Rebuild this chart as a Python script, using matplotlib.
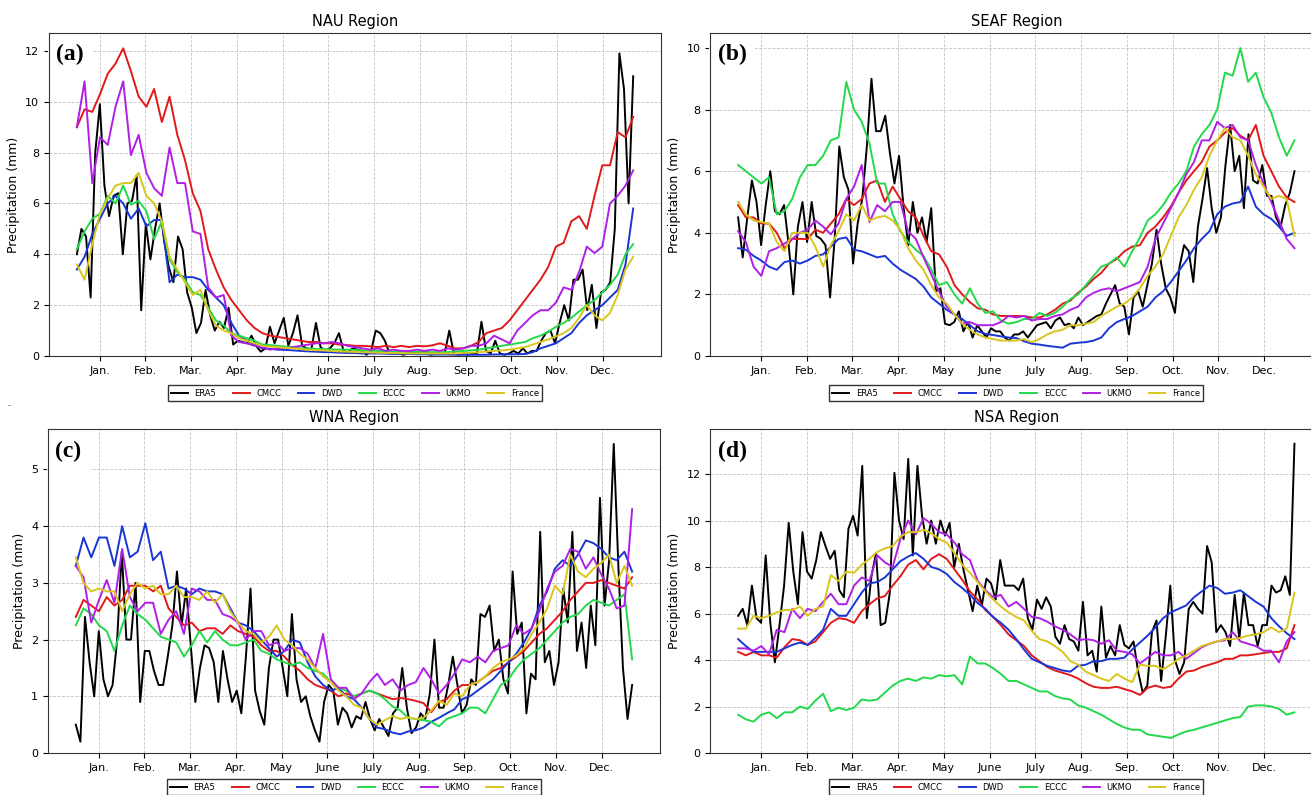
import numpy as np
import matplotlib
matplotlib.use('Agg')
import matplotlib.pyplot as plt

# x axis: day of year 0..365, ticks at the middle of each month
month_ticks = [15, 45, 75, 105, 135, 165, 195, 225, 255, 285, 315, 345]
month_labels = ['Jan.', 'Feb.', 'Mar.', 'Apr.', 'May', 'June', 'July',
                'Aug.', 'Sep.', 'Oct.', 'Nov.', 'Dec.']

models = ['ERA5', 'CMCC', 'DWD', 'ECCC', 'UKMO', 'France']
colors = ['black', '#e0191b', '#1a35d6', '#22d94a', '#b01fe6', '#d9c51c']

# values (ERA5 every ~3 days, models every ~5 days)
nau_era5 = [4.0, 5.0, 4.7, 2.3, 8.0, 9.9, 6.7, 5.5, 6.3, 6.4, 4.0, 6.0, 6.1, 7.1, 1.8, 5.2, 3.8, 5.0, 6.0, 4.5,
            3.5, 2.9, 4.7, 4.2, 2.5, 1.9, 0.9, 1.3, 2.6, 1.6, 1.0, 1.35, 1.1, 1.9, 0.45, 0.6, 0.55, 0.5, 0.8, 0.4,
            0.17, 0.3, 1.15, 0.5, 1.0, 1.5, 0.4, 0.9, 1.6, 0.4, 0.3, 0.25, 1.3, 0.35, 0.2, 0.3, 0.5, 0.9, 0.2, 0.15,
            0.3, 0.25, 0.2, 0.05, 0.2, 1.0, 0.9, 0.6, 0.1, 0.15, 0.1, 0.05, 0.1, 0.1, 0.15, 0.1, 0.1, 0.05, 0.1, 0.1,
            0.1, 1.0, 0.1, 0.05, 0.1, 0.05, 0.1, 0.1, 1.35, 0.2, 0.1, 0.6, 0.1, 0.05, 0.1, 0.2, 0.1, 0.3, 0.1, 0.2,
            0.2, 0.6, 0.9, 1.0, 0.5, 1.3, 2.0, 1.4, 3.0, 3.0, 3.4, 1.8, 2.8, 1.1, 2.5, 2.6, 2.9, 5.0, 11.9, 10.5,
            6.0, 11.0]
nau_cmcc = [9.0, 9.7, 9.6, 10.3, 11.1, 11.5, 12.1, 11.2, 10.2, 9.8, 10.5, 9.2, 10.2, 8.7, 7.7, 6.4, 5.7, 4.2, 3.4,
            2.7, 2.2, 1.8, 1.4, 1.1, 0.9, 0.8, 0.75, 0.7, 0.65, 0.6, 0.55, 0.55, 0.5, 0.5, 0.45, 0.43, 0.4, 0.4,
            0.38, 0.35, 0.4, 0.35, 0.4, 0.35, 0.4, 0.38, 0.42, 0.5, 0.4, 0.3, 0.3, 0.4, 0.55, 0.9, 1.0, 1.1, 1.4,
            1.8, 2.2, 2.6, 3.0, 3.5, 4.3, 4.45, 5.3, 5.5, 5.0, 6.3, 7.5, 7.5, 8.8, 8.6, 9.4]
nau_dwd = [3.4, 3.9, 4.8, 5.4, 6.0, 6.3, 6.0, 5.4, 5.8, 5.1, 5.35, 5.35, 2.9, 3.2, 3.1, 3.1, 3.0, 2.6, 2.3, 2.0,
           1.3, 0.8, 0.6, 0.45, 0.3, 0.28, 0.25, 0.24, 0.22, 0.2, 0.18, 0.17, 0.15, 0.15, 0.13, 0.12, 0.12, 0.1,
           0.1, 0.1, 0.09, 0.08, 0.08, 0.08, 0.07, 0.07, 0.06, 0.06, 0.06, 0.05, 0.05, 0.05, 0.05, 0.05, 0.06,
           0.06, 0.07, 0.07, 0.08, 0.15, 0.3, 0.4, 0.5, 0.7, 0.9, 1.3, 1.6, 1.8, 2.0, 2.3, 2.6, 3.6, 5.8]
nau_eccc = [4.2, 4.9, 5.4, 5.6, 6.3, 6.0, 6.7, 5.95, 6.1, 5.7, 4.6, 5.3, 3.8, 3.3, 3.0, 2.5, 2.4, 1.9, 1.4, 1.2,
            0.9, 0.8, 0.7, 0.6, 0.45, 0.43, 0.4, 0.37, 0.35, 0.3, 0.3, 0.28, 0.27, 0.26, 0.25, 0.25, 0.24, 0.22,
            0.2, 0.2, 0.18, 0.18, 0.17, 0.17, 0.16, 0.16, 0.15, 0.15, 0.15, 0.18, 0.2, 0.22, 0.25, 0.3, 0.35, 0.4,
            0.45, 0.5, 0.55, 0.7, 0.8, 0.95, 1.15, 1.3, 1.5, 1.75, 2.0, 2.2, 2.5, 2.8, 3.2, 4.0, 4.4]
nau_ukmo = [9.0, 10.8, 6.8, 8.6, 8.3, 9.8, 10.8, 7.9, 8.7, 7.2, 6.6, 6.3, 8.2, 6.8, 6.8, 4.9, 4.8, 2.7, 2.3, 2.4,
            0.8, 0.55, 0.5, 0.4, 0.35, 0.25, 0.3, 0.3, 0.35, 0.4, 0.45, 0.5, 0.5, 0.55, 0.5, 0.4, 0.35, 0.3, 0.25,
            0.3, 0.2, 0.25, 0.2, 0.2, 0.25, 0.2, 0.25, 0.2, 0.3, 0.25, 0.3, 0.4, 0.4, 0.5, 0.8, 0.65, 0.5, 1.0,
            1.3, 1.6, 1.8, 1.8, 2.1, 2.7, 2.6, 3.3, 4.3, 4.05, 4.3, 6.0, 6.3, 6.7, 7.3]
nau_france = [3.6, 3.0, 4.4, 5.6, 6.2, 6.7, 6.8, 6.8, 7.2, 6.3, 6.0, 5.3, 3.9, 3.4, 2.9, 2.4, 2.6, 1.8, 1.2, 1.0,
              0.9, 0.7, 0.6, 0.5, 0.4, 0.37, 0.35, 0.32, 0.3, 0.27, 0.24, 0.23, 0.22, 0.2, 0.18, 0.17, 0.16, 0.15,
              0.14, 0.13, 0.12, 0.12, 0.11, 0.1, 0.1, 0.1, 0.1, 0.1, 0.1, 0.1, 0.12, 0.13, 0.15, 0.18, 0.2, 0.22,
              0.25, 0.3, 0.35, 0.45, 0.55, 0.65, 0.77, 0.9, 1.1, 1.5, 2.0, 1.6, 1.4, 1.7, 2.4, 3.4, 3.9]

seaf_era5 = [4.5, 3.2, 4.5, 5.7, 5.0, 3.6, 4.9, 6.0, 4.7, 4.6, 4.9, 3.6, 2.0, 4.2, 5.0, 3.7, 5.0, 3.9, 3.8, 3.6,
             1.9, 3.8, 6.8, 5.8, 5.4, 3.0, 4.3, 5.1, 6.8, 9.0, 7.3, 7.3, 7.8, 6.6, 5.6, 6.5, 4.8, 3.6, 5.0, 4.0,
             4.5, 3.7, 4.8, 2.1, 2.2, 1.05, 1.0, 1.1, 1.45, 0.8, 1.1, 0.6, 1.0, 0.8, 0.6, 0.9, 0.8, 0.8, 0.6, 0.5,
             0.7, 0.7, 0.8, 0.6, 0.8, 1.0, 1.05, 1.1, 0.9, 1.15, 1.25, 1.0, 1.05, 0.9, 1.25, 1.0, 1.1, 1.2, 1.3,
             1.35, 1.7, 2.0, 2.3, 1.7, 1.6, 0.7, 1.9, 2.1, 1.6, 2.3, 3.0, 4.1, 3.0, 2.2, 1.9, 1.4, 2.9, 3.6, 3.4,
             2.4, 4.2, 5.1, 6.1, 4.8, 4.0, 4.5, 6.2, 7.5, 6.0, 6.5, 4.8, 7.2, 5.7, 5.6, 6.2, 5.2, 5.2, 4.5, 4.2,
             4.9, 5.3, 6.0]
seaf_cmcc = [4.9, 4.5, 4.5, 4.3, 4.3, 4.0, 3.5, 3.8, 3.8, 3.8, 4.1, 4.0, 4.3, 4.6, 5.1, 4.9, 5.1, 5.6, 5.7, 5.0,
             5.5, 5.1, 4.7, 4.5, 3.9, 3.4, 3.3, 2.9, 2.3, 2.0, 1.75, 1.55, 1.5, 1.35, 1.3, 1.3, 1.3, 1.3, 1.25,
             1.25, 1.35, 1.5, 1.7, 1.8, 2.05, 2.25, 2.5, 2.7, 3.0, 3.15, 3.4, 3.55, 3.6, 4.0, 4.2, 4.5, 4.85, 5.3,
             5.7, 6.0, 6.3, 6.8, 7.0, 7.25, 7.4, 7.15, 7.0, 7.5, 6.5, 6.0, 5.5, 5.15, 5.0]
seaf_dwd = [3.5, 3.45, 3.25, 3.1, 2.9, 2.8, 3.05, 3.1, 3.0, 3.1, 3.25, 3.3, 3.55, 3.8, 3.85, 3.45, 3.4, 3.3, 3.2,
            3.25, 3.0, 2.8, 2.65, 2.5, 2.25, 1.9, 1.7, 1.5, 1.35, 1.2, 1.0, 0.8, 0.72, 0.68, 0.64, 0.6, 0.58, 0.48,
            0.4, 0.37, 0.33, 0.3, 0.27, 0.4, 0.43, 0.45, 0.5, 0.6, 0.9, 1.1, 1.2, 1.3, 1.45, 1.6, 1.9, 2.1, 2.4,
            2.75, 3.1, 3.5, 3.8, 4.05, 4.6, 4.85, 4.95, 5.0, 5.5, 4.85, 4.6, 4.45, 4.2, 3.9, 4.0]
seaf_eccc = [6.2, 6.0, 5.8, 5.6, 5.8, 4.6, 4.7, 5.1, 5.8, 6.2, 6.2, 6.5, 7.0, 7.1, 8.9, 8.0, 7.6, 6.9, 5.6, 5.6,
             4.6, 4.05, 3.7, 3.45, 3.25, 2.8, 2.3, 2.4, 2.0, 1.7, 2.2, 1.7, 1.4, 1.45, 1.15, 1.05, 1.1, 1.2, 1.2,
             1.4, 1.3, 1.4, 1.6, 1.85, 2.0, 2.3, 2.6, 2.9, 3.0, 3.2, 2.9, 3.4, 3.85, 4.4, 4.6, 4.9, 5.3, 5.6, 6.0,
             6.8, 7.2, 7.5, 8.0, 9.2, 9.1, 10.0, 8.9, 9.2, 8.4, 7.9, 7.1, 6.5, 7.0]
seaf_ukmo = [4.05, 3.7, 2.9, 2.6, 3.4, 3.5, 3.65, 3.8, 4.0, 4.1, 4.4, 4.2, 3.95, 4.3, 5.1, 5.5, 6.2, 4.35, 4.9,
             4.7, 5.0, 5.0, 4.05, 3.8, 3.2, 2.65, 2.1, 1.6, 1.35, 1.05, 1.1, 1.0, 1.0, 1.0, 1.1, 1.3, 1.25, 1.3,
             1.15, 1.2, 1.2, 1.3, 1.35, 1.5, 1.6, 1.9, 2.05, 2.15, 2.2, 2.1, 2.2, 2.3, 2.4, 2.9, 3.8, 4.3, 4.8,
             5.3, 5.9, 6.3, 7.0, 7.0, 7.6, 7.4, 7.5, 7.1, 7.0, 6.2, 5.6, 5.0, 4.4, 3.8, 3.5]
seaf_france = [5.0, 4.6, 4.4, 4.35, 4.3, 3.7, 3.4, 4.0, 4.0, 4.0, 3.55, 2.9, 3.6, 4.05, 4.6, 4.4, 4.9, 4.4, 4.5,
               4.55, 4.4, 4.1, 3.5, 3.1, 2.8, 2.3, 1.9, 1.7, 1.35, 1.05, 0.85, 0.7, 0.6, 0.55, 0.5, 0.5, 0.5, 0.55,
               0.45, 0.55, 0.7, 0.8, 0.85, 1.0, 1.0, 1.05, 1.1, 1.3, 1.45, 1.6, 1.7, 1.9, 2.2, 2.6, 2.9, 3.3, 3.9,
               4.5, 4.9, 5.4, 5.8, 6.5, 7.0, 7.4, 7.1, 7.0, 6.5, 5.9, 5.5, 5.1, 5.2, 5.1, 3.9]

wna_era5 = [0.5, 0.2, 2.4, 1.6, 1.0, 2.15, 1.3, 1.0, 1.2, 2.0, 3.55, 2.0, 2.0, 3.0, 0.9, 1.8, 1.8, 1.45, 1.2, 1.2,
            1.7, 2.25, 3.2, 2.25, 2.9, 1.9, 0.9, 1.5, 1.9, 1.85, 1.6, 0.9, 1.8, 1.3, 0.9, 1.1, 0.7, 1.7, 2.9, 1.1,
            0.74, 0.5, 1.5, 2.0, 2.0, 1.5, 1.0, 2.45, 1.3, 0.9, 1.0, 0.65, 0.4, 0.2, 0.9, 1.2, 1.1, 0.5, 0.8, 0.7,
            0.45, 0.65, 0.6, 0.9, 0.6, 0.4, 0.6, 0.45, 0.3, 0.7, 0.8, 1.5, 0.8, 0.35, 0.45, 0.7, 0.6, 1.05, 2.0,
            0.8, 0.8, 1.2, 1.7, 1.2, 0.7, 0.85, 1.3, 1.2, 2.45, 2.4, 2.6, 1.8, 2.0, 1.3, 1.05, 3.2, 2.1, 2.3, 0.7,
            1.4, 1.3, 3.9, 1.6, 1.8, 1.2, 1.6, 2.9, 2.3, 3.9, 1.8, 2.3, 1.5, 2.6, 1.9, 4.5, 2.6, 3.4, 5.45, 3.3,
            1.5, 0.6, 1.2]
wna_cmcc = [2.4, 2.7, 2.6, 2.5, 2.75, 2.6, 2.7, 2.95, 2.95, 2.95, 2.85, 2.95, 2.55, 2.4, 2.25, 2.3, 2.15, 2.2, 2.2,
            2.1, 2.25, 2.15, 2.1, 2.05, 1.9, 1.8, 1.8, 1.7, 1.55, 1.45, 1.3, 1.2, 1.15, 1.1, 1.0, 1.05, 1.0, 1.05,
            1.1, 1.05, 1.0, 0.95, 0.97, 0.95, 0.92, 0.88, 0.72, 0.9, 0.95, 1.1, 1.2, 1.2, 1.25, 1.35, 1.45, 1.5,
            1.6, 1.7, 1.8, 1.95, 2.1, 2.2, 2.35, 2.5, 2.7, 2.85, 3.0, 3.0, 3.05, 3.0, 2.95, 2.9, 3.1]
wna_dwd = [3.3, 3.8, 3.45, 3.8, 3.8, 3.3, 4.0, 3.45, 3.55, 4.05, 3.4, 3.55, 2.9, 2.95, 2.9, 2.8, 2.9, 2.85, 2.85,
           2.8, 2.55, 2.3, 2.25, 2.15, 2.0, 1.85, 1.7, 1.8, 2.0, 1.95, 1.6, 1.35, 1.2, 1.1, 1.15, 1.0, 0.95, 0.8,
           0.6, 0.45, 0.42, 0.36, 0.33, 0.38, 0.4, 0.45, 0.55, 0.62, 0.7, 0.77, 0.95, 1.0, 1.1, 1.2, 1.3, 1.45,
           1.6, 1.75, 1.95, 2.2, 2.6, 2.85, 3.25, 3.4, 3.3, 3.5, 3.75, 3.7, 3.6, 3.45, 3.4, 3.55, 3.2]
wna_eccc = [2.25, 2.55, 2.45, 2.25, 2.15, 1.8, 2.25, 2.6, 2.45, 2.35, 2.2, 2.05, 2.0, 1.95, 1.7, 1.9, 2.15, 1.95,
            2.15, 2.0, 1.9, 1.9, 1.95, 2.0, 1.8, 1.75, 1.65, 1.6, 1.55, 1.6, 1.5, 1.45, 1.4, 1.25, 1.15, 1.1, 1.0,
            1.05, 1.1, 1.05, 0.95, 0.82, 0.75, 0.62, 0.6, 0.58, 0.55, 0.47, 0.6, 0.65, 0.7, 0.8, 0.8, 0.7, 0.95,
            1.2, 1.3, 1.5, 1.65, 1.75, 1.85, 2.0, 2.15, 2.3, 2.4, 2.45, 2.6, 2.7, 2.65, 2.6, 2.7, 2.8, 1.65]
wna_ukmo = [3.3, 3.1, 2.3, 2.7, 3.05, 2.65, 3.6, 2.75, 2.5, 2.65, 2.65, 2.1, 2.35, 2.5, 2.1, 2.9, 2.85, 2.7, 2.7,
            2.45, 2.4, 2.3, 2.0, 2.15, 2.15, 1.9, 1.95, 1.8, 1.85, 1.85, 1.75, 1.5, 2.1, 1.3, 1.15, 1.15, 0.95,
            1.05, 1.25, 1.4, 1.2, 1.3, 1.1, 1.2, 1.25, 1.5, 1.3, 1.05, 1.2, 1.4, 1.65, 1.6, 1.7, 1.6, 1.8, 1.85,
            1.9, 2.25, 2.1, 2.2, 2.5, 2.9, 3.2, 3.3, 3.6, 3.55, 3.25, 3.45, 3.15, 2.9, 2.55, 2.6, 4.3]
wna_france = [3.45, 3.0, 2.85, 2.9, 2.85, 2.85, 2.5, 2.8, 3.0, 2.9, 2.95, 2.8, 2.8, 2.95, 2.75, 2.75, 2.7, 2.85,
              2.65, 2.8, 2.5, 2.3, 2.15, 2.1, 1.95, 2.05, 2.25, 2.0, 1.9, 1.75, 1.65, 1.5, 1.35, 1.25, 1.1, 1.0,
              0.85, 0.8, 0.6, 0.5, 0.58, 0.65, 0.6, 0.63, 0.6, 0.62, 0.75, 0.92, 0.85, 1.05, 1.0, 1.2, 1.25, 1.35,
              1.5, 1.6, 1.65, 1.72, 1.85, 2.1, 2.3, 2.55, 2.95, 2.8, 3.5, 3.2, 3.1, 3.25, 3.35, 3.5, 3.0, 3.3, 2.95]

nsa_era5 = [5.9, 6.2, 5.5, 7.2, 5.8, 5.6, 8.5, 5.6, 3.9, 5.5, 7.2, 9.9, 7.8, 6.4, 9.5, 7.8, 7.5, 8.3, 9.5, 8.9,
            8.35, 8.7, 7.0, 6.7, 9.65, 10.2, 9.35, 12.35, 5.8, 7.6, 8.6, 5.5, 5.6, 6.9, 12.05, 10.0, 9.2, 12.65,
            8.5, 12.35, 10.2, 9.0, 10.0, 9.0, 10.0, 9.35, 9.9, 8.0, 9.0, 7.9, 7.0, 6.1, 7.2, 6.35, 7.5, 7.3, 6.6,
            8.3, 7.2, 7.2, 7.2, 7.0, 7.5, 5.8, 5.3, 6.6, 6.2, 6.7, 6.3, 5.0, 4.7, 5.5, 4.9, 4.8, 4.4, 6.5, 4.2,
            4.4, 3.5, 6.3, 4.1, 4.6, 4.2, 5.5, 4.65, 4.5, 4.8, 3.5, 2.6, 2.9, 5.2, 5.7, 3.1, 5.0, 7.2, 4.0, 3.4,
            3.9, 6.2, 6.5, 6.2, 6.0, 8.9, 8.2, 5.2, 5.5, 5.2, 4.6, 6.8, 4.9, 6.9, 5.5, 5.5, 4.6, 5.5, 5.5, 7.2,
            6.9, 7.0, 7.6, 6.8, 13.3]
nsa_cmcc = [4.35, 4.2, 4.35, 4.2, 4.2, 4.1, 4.55, 4.9, 4.85, 4.65, 4.8, 5.2, 5.6, 5.8, 5.75, 5.6, 6.1, 6.4, 6.65,
            6.75, 7.2, 7.6, 8.1, 8.3, 7.9, 8.35, 8.55, 8.35, 7.9, 7.45, 6.95, 6.6, 6.15, 5.85, 5.5, 5.1, 4.85, 4.6,
            4.2, 3.95, 3.7, 3.55, 3.45, 3.35, 3.2, 3.0, 2.85, 2.8, 2.8, 2.85, 2.75, 2.65, 2.5, 2.8, 2.9, 2.8, 2.85,
            3.2, 3.5, 3.55, 3.7, 3.8, 3.9, 4.05, 4.05, 4.2, 4.2, 4.25, 4.3, 4.35, 4.35, 4.5, 5.5]
nsa_dwd = [4.9, 4.6, 4.35, 4.35, 4.35, 4.35, 4.5, 4.65, 4.75, 4.65, 4.95, 5.3, 6.2, 5.9, 5.9, 6.4, 6.9, 7.3, 7.35,
           7.55, 7.9, 8.25, 8.45, 8.6, 8.35, 8.0, 7.9, 7.7, 7.35, 7.1, 6.8, 6.45, 6.2, 5.85, 5.6, 5.3, 4.9, 4.45,
           4.05, 3.9, 3.75, 3.65, 3.55, 3.5, 3.75, 3.8, 3.95, 3.95, 4.05, 4.05, 4.1, 4.45, 4.75, 5.05, 5.4, 5.8,
           6.05, 6.2, 6.35, 6.7, 6.95, 7.2, 7.1, 6.85, 6.9, 7.0, 6.75, 6.5, 6.3, 5.8, 5.45, 5.15, 4.9]
nsa_eccc = [1.65, 1.45, 1.35, 1.65, 1.75, 1.5, 1.75, 1.75, 2.0, 1.9, 2.25, 2.55, 1.8, 1.95, 1.85, 1.95, 2.3, 2.25,
            2.3, 2.6, 2.9, 3.1, 3.2, 3.1, 3.25, 3.2, 3.35, 3.3, 3.35, 2.95, 4.15, 3.85, 3.85, 3.65, 3.4, 3.1, 3.1,
            2.95, 2.8, 2.65, 2.65, 2.45, 2.35, 2.3, 2.05, 1.95, 1.8, 1.65, 1.45, 1.25, 1.1, 1.0, 1.0, 0.8, 0.75,
            0.7, 0.65, 0.8, 0.93, 1.0, 1.1, 1.2, 1.3, 1.4, 1.5, 1.55, 2.0, 2.05, 2.05, 2.0, 1.9, 1.65, 1.75]
nsa_ukmo = [4.5, 4.5, 4.4, 4.6, 4.25, 5.3, 5.2, 6.2, 5.8, 6.2, 6.1, 6.5, 6.85, 6.4, 6.4, 7.2, 7.55, 7.4, 8.5, 8.2,
            8.0, 9.2, 10.0, 9.4, 10.1, 9.85, 9.5, 9.4, 9.05, 8.55, 8.3, 7.4, 7.0, 6.7, 6.8, 6.3, 6.5, 6.2, 5.85,
            5.8, 5.65, 5.45, 5.3, 5.1, 4.85, 4.9, 4.85, 4.7, 4.85, 4.4, 4.35, 4.25, 3.85, 4.1, 4.35, 4.2, 4.2,
            4.35, 4.05, 4.3, 4.55, 4.7, 4.8, 4.85, 5.2, 4.8, 4.7, 4.6, 4.4, 4.4, 3.9, 4.8, 5.2]
nsa_france = [5.35, 5.35, 5.9, 5.8, 5.9, 6.05, 6.15, 6.15, 6.3, 5.9, 6.2, 6.3, 7.65, 7.4, 7.8, 7.75, 8.1, 8.35,
              8.65, 8.8, 8.9, 9.3, 9.5, 9.5, 9.6, 9.45, 9.2, 9.05, 8.6, 8.1, 7.75, 7.35, 6.95, 6.6, 6.3, 6.05,
              5.85, 5.7, 5.25, 4.9, 4.8, 4.6, 4.35, 3.95, 3.8, 3.5, 3.35, 3.2, 3.1, 3.4, 3.2, 3.05, 3.8, 3.75,
              3.75, 3.6, 3.8, 4.05, 4.2, 4.4, 4.6, 4.7, 4.8, 4.9, 4.9, 4.95, 5.05, 5.1, 5.2, 5.4, 5.2, 5.35, 6.9]

panels = [
    ('NAU Region', '(a)', [nau_era5, nau_cmcc, nau_dwd, nau_eccc, nau_ukmo, nau_france]),
    ('SEAF Region', '(b)', [seaf_era5, seaf_cmcc, seaf_dwd, seaf_eccc, seaf_ukmo, seaf_france]),
    ('WNA Region', '(c)', [wna_era5, wna_cmcc, wna_dwd, wna_eccc, wna_ukmo, wna_france]),
    ('NSA Region', '(d)', [nsa_era5, nsa_cmcc, nsa_dwd, nsa_eccc, nsa_ukmo, nsa_france]),
]

# axes boxes in figure fractions (right column runs slightly past the edge, as in the original)
boxes = [
    [0.0374, 0.5522, 0.4668, 0.4063],
    [0.5418, 0.5522, 0.4668, 0.4063],
    [0.0366, 0.0528, 0.4668, 0.4075],
    [0.5418, 0.0528, 0.4668, 0.4075],
]
legend_y = [-0.078, -0.078, -0.068, -0.068]

fig = plt.figure(figsize=(13.11, 7.95), dpi=100)

for (title, tag, series), box, ly in zip(panels, boxes, legend_y):
    ax = fig.add_axes(box)
    for name, col, vals in zip(models, colors, series):
        x = np.linspace(0, 365, len(vals))
        ax.plot(x, vals, color=col, lw=1.4, label=name)
    ax.set_ylim(bottom=0)
    ax.set_xticks(month_ticks)
    ax.set_xticklabels(month_labels)
    ax.tick_params(labelsize=8)
    ax.set_ylabel('Precipitation (mm)', fontsize=9)
    ax.set_title(title, fontsize=10.5, pad=5)
    ax.grid(True, linestyle='--', linewidth=0.6, color='#c4c4c4')
    for sp in ax.spines.values():
        sp.set_color('#333333')
    ax.text(0.012, 0.965, tag, transform=ax.transAxes, ha='left', va='top',
            fontsize=17, fontweight='bold', family='Liberation Serif', zorder=1.8,
            bbox=dict(boxstyle='square,pad=0.35', facecolor='white', edgecolor='none'))
    ax.legend(loc='upper center', bbox_to_anchor=(0.5, ly), ncol=6, fontsize=6,
              fancybox=False, edgecolor='#333333', framealpha=1)

fig.text(0.006, 0.487, '-', fontsize=6, color='#555555')

fig.savefig('out.png', dpi=100)
